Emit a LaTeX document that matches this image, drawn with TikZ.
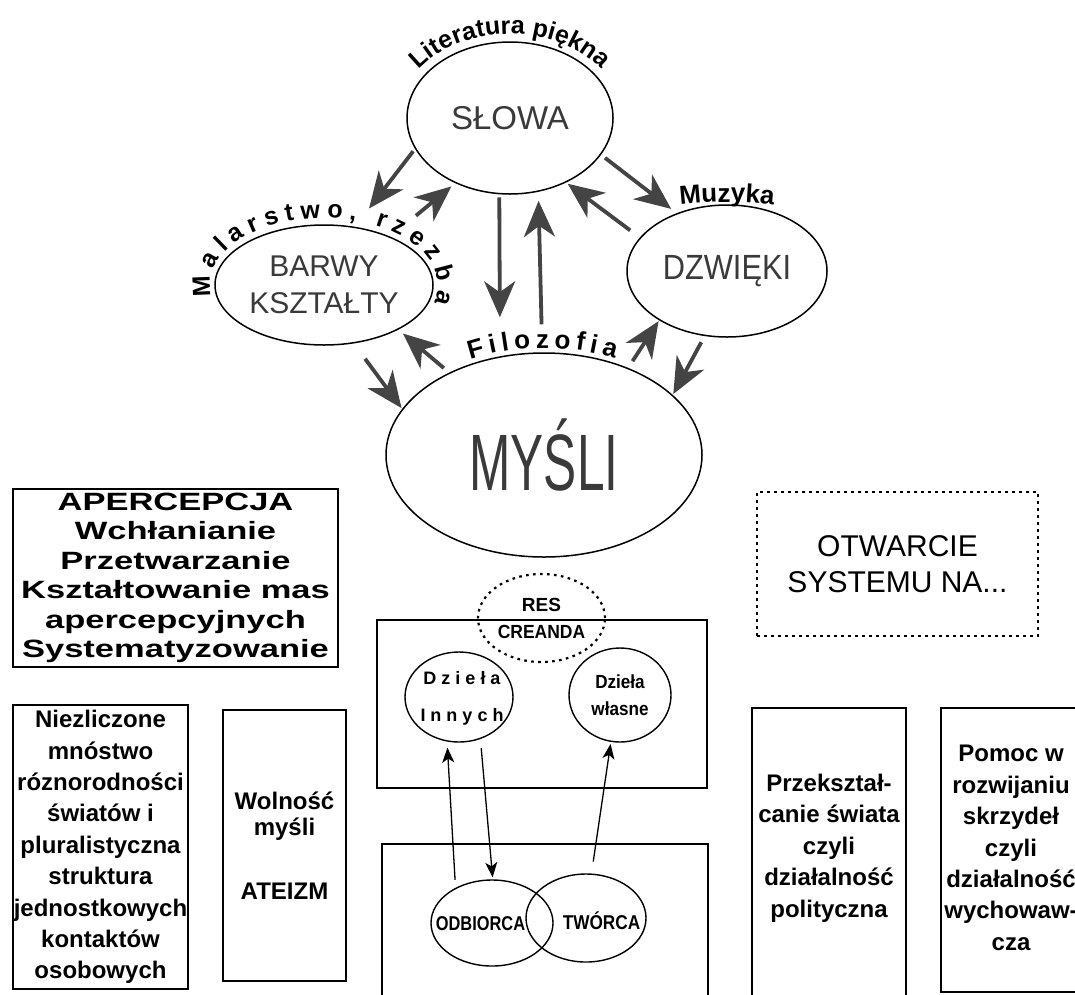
\documentclass[tikz,border=0pt]{standalone}
\usepackage{fontspec}
\setmainfont{Liberation Sans}
\usepackage{graphicx}
\usetikzlibrary{shapes.geometric,arrows.meta,decorations.text}
\definecolor{ink}{HTML}{3A3A3A}
\definecolor{arrgray}{HTML}{444444}
\newcommand\fsz[2]{\fontsize{#1}{#2}\selectfont}
\begin{document}
\begin{tikzpicture}[x=1pt,y=-1pt,
  bigell/.style={ellipse, draw, line width=1.5pt, inner sep=0pt, text=ink, align=center},
  smallell/.style={ellipse, draw, line width=1.4pt, inner sep=0pt},
  bigarr/.style={draw=arrgray, line width=3.8pt, -{Stealth[length=36pt,width=31pt,inset=11pt]}},
  smallarr/.style={draw, line width=1.3pt, -{Stealth[length=15pt,width=12pt,inset=4pt]}},
  boxnode/.style={draw, line width=1.8pt, inner sep=0pt, align=center, font=\bfseries\fsz{24}{31.4}},
  thinbox/.style={draw, line width=1.4pt, inner sep=0pt},
  dotbox/.style={draw, line width=2.2pt, dash pattern=on 2.6pt off 4.4pt, inner sep=0pt},
  boxtext/.style={inner sep=0pt, align=center, font=\bfseries\fsz{24}{31.4}}
]
\fill[white] (0,0) rectangle (1075,994);
\clip (0,0) rectangle (1075,994);

% --- top ellipses ---
\node[bigell, minimum width=206, minimum height=152, font=\fsz{33}{38}] (slowa) at (510,118) {SŁOWA};
\node[bigell, minimum width=218, minimum height=120, font=\fsz{30}{37}] (barwy) at (324,285) {BARWY\\KSZTAŁTY};
\node[bigell, minimum width=200, minimum height=132, font=\fsz{35}{40}] (dzwieki) at (727,271) {\scalebox{0.88}[1]{DZWIĘKI}};
\node[bigell, minimum width=316, minimum height=204, font=\fsz{80}{90}] (mysli) at (544,455) {\scalebox{0.62}[1]{MYŚLI}};

% --- curved labels ---
\path[decorate, decoration={text along path, text align=center,
   text={|\bfseries\fsz{25}{25}|Literatura piękna}}]
   ([shift={(200:112 and 84)}]slowa.center) arc[start angle=200, end angle=340, x radius=112, y radius=84];
\path[decorate, decoration={text along path, text align=fit to path,
   text={|\bfseries\fsz{25}{25}|Malarstwo, rzezba}}]
   ([shift={(170:114 and 67)}]barwy.center) arc[start angle=170, end angle=375, x radius=114, y radius=67];
\path[decorate, decoration={text along path, text align=center,
   text={|\bfseries\fsz{26}{26}|Muzyka}}]
   ([shift={(235:170 and 69)}]dzwieki.center) arc[start angle=235, end angle=305, x radius=170, y radius=69];
\path[decorate, decoration={text along path, text align=fit to path,
   text={|\bfseries\fsz{26}{26}|Filozofia}}]
   ([shift={(243.4:165 and 107)}]mysli.center) arc[start angle=243.4, end angle=295.5, x radius=165, y radius=107];

% --- big arrows ---
\draw[bigarr, shorten <=3, shorten >=23] (slowa.198) -- (barwy.62);
\draw[bigarr, shorten <=33, shorten >=5] (barwy.36) -- (slowa.230);
\draw[bigarr, shorten <=3, shorten >=39] (slowa.262.5) -- (mysli.114);
\draw[bigarr, shorten <=28, shorten >=9] (mysli.91) -- (slowa.291);
\draw[bigarr, shorten <=12, shorten >=2] (dzwieki.159) -- (slowa.311);
\draw[bigarr, shorten <=5, shorten >=7] (slowa.338) -- (dzwieki.131);
\draw[bigarr, shorten <=8, shorten >=1] (mysli.46) -- (dzwieki.216);
\draw[bigarr, shorten <=7, shorten >=1] (dzwieki.251) -- (mysli.25);
\draw[bigarr, shorten <=7, shorten >=6] (mysli.139) -- (barwy.329);
\draw[bigarr, shorten <=19, shorten >=1] (barwy.297) -- (mysli.162);

% --- left boxes ---
\node[boxnode, minimum width=325, minimum height=178] (aperc) at (175.5,578)
  {\scalebox{1.38}[1]{\bfseries\fsz{25}{29.5}\begin{tabular}{@{}c@{}}APERCEPCJA\\Wchłanianie\\Przetwarzanie\\Kształtowanie mas\\apercepcyjnych\\Systematyzowanie\end{tabular}}};
\node[boxnode, minimum width=175, minimum height=284] (niez) at (100.5,847)
  {Niezliczone\\mnóstwo\\róznorodności\\światów i\\pluralistyczna\\struktura\\jednostkowych\\kontaktów\\osobowych};
\node[boxnode, minimum width=123, minimum height=271, font=\bfseries\fsz{24}{26.7}] (woln) at (284.5,845.5)
  {Wolność\\myśli\\[37pt]ATEIZM};

% --- middle ---
\node[thinbox, minimum width=330, minimum height=168] (upbox) at (542,704) {};
\node[thinbox, minimum width=326, minimum height=170] (lowbox) at (545,929) {};
\node[dotbox, ellipse, minimum width=127, minimum height=88, align=center,
      font=\bfseries\fsz{19}{27}] (res) at (541.5,618) {RES\\\scalebox{0.92}[1]{CREANDA}};
\node[smallell, minimum width=108, minimum height=90] (dzi) at (459,697) {};
\node[inner sep=0pt, align=center, font=\bfseries\fsz{18}{37}] (dzit) at (462,698)
  {D\kern5pt z\kern5pt i\kern5pt e\kern5pt ł\kern5pt a\\I\kern5pt n\kern5pt n\kern5pt y\kern5pt c\kern5pt h};
\node[smallell, minimum width=102, minimum height=94, align=center,
      font=\bfseries\fsz{19}{27}] (dw) at (620,695) {\scalebox{0.9}[1]{Dzieła}\\\scalebox{0.9}[1]{własne}};
\node[smallell, minimum width=122, minimum height=86] (odb) at (492,923) {};
\node[smallell, minimum width=120, minimum height=88] (tw) at (586,918) {};
\node[inner sep=0pt, font=\bfseries\fsz{20}{20}] (odbt) at (480.5,924) {\scalebox{0.82}[1]{ODBIORCA}};
\node[inner sep=0pt, font=\bfseries\fsz{20}{20}] (twt) at (601.5,921) {\scalebox{0.86}[1]{TWÓRCA}};

\draw[smallarr, shorten <=8, shorten >=6] (odb.136) -- (dzi.255);
\draw[smallarr, shorten <=9, shorten >=2] (dzi.297) -- (odb.89);
\draw[smallarr, shorten <=12, shorten >=2] (tw.83) -- (dw.259);

% --- right boxes ---
\node[dotbox, rectangle, minimum width=281, minimum height=144, align=center,
      font=\fsz{30}{36}] (otw) at (897.5,564) {OTWARCIE\\SYSTEMU NA...};
\node[boxnode, minimum width=154, minimum height=310, anchor=north] (przbox) at (829,707) {};
\node[boxtext] (przt) at (829,848)
  {Przekształ-\\canie świata\\czyli\\działalność\\polityczna};
\node[boxnode, minimum width=144, minimum height=284, anchor=north] (pombox) at (1013,707) {};
\node[boxtext] (pomt) at (1011,848)
  {Pomoc w\\rozwijaniu\\skrzydeł\\czyli\\działalność\\wychowaw-\\cza};
\end{tikzpicture}
\end{document}
